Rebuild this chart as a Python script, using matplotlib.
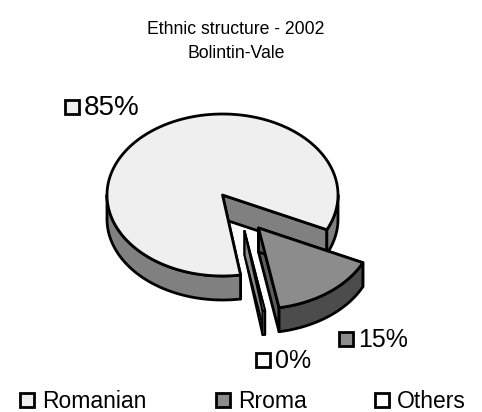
import numpy as np
import matplotlib
matplotlib.use("Agg")
import matplotlib.pyplot as plt
from matplotlib.patches import Polygon, Rectangle

plt.rcParams["font.family"] = ["Liberation Sans", "DejaVu Sans"]

title_lines = ["Ethnic structure - 2002", "Bolintin-Vale"]
categories = ["Romanian", "Rroma", "Others"]
values = [84.55, 15.1, 0.35]

START = -81
RX, RY, DEPTH = 115.5, 81, 24
CENTER = (222.5, 195)
offsets = [(0, 0), (36, 33), (22, 36)]
top_colors = ["#efefef", "#8c8c8c", "#ffffff"]
wall_colors = ["#808080", "#4c4c4c", "#8c8c8c"]
cut_colors = ["#808080", "#5e5e5e", "#8c8c8c"]
line_widths = [2, 2, 1.5]
swatch_colors = ["#efefef", "#8c8c8c", "#ffffff"]

fig = plt.figure(figsize=(4.82, 4.12), dpi=100)
ax = fig.add_axes([0, 0, 1, 1])
ax.set_xlim(0, 482)
ax.set_ylim(412, 0)
ax.axis("off")


def rim(cx, cy, a0, a1):
    t = np.radians(np.linspace(a0, a1, 200))
    return np.column_stack([cx + RX * np.cos(t), cy - RY * np.sin(t)])


def draw_slice(a_from, a_to, off, top, wall, cut, lw):
    # a_from > a_to, slices run clockwise like in the spreadsheet
    cx, cy = CENTER[0] + off[0], CENTER[1] + off[1]
    apex = np.array([cx, cy])
    down = np.array([0, DEPTH])
    style = dict(edgecolor="black", lw=lw, joinstyle="round")

    # the two flat cuts
    for a in (a_to, a_from):
        p = rim(cx, cy, a, a)[0]
        ax.add_patch(Polygon([apex, p, p + down, apex + down], facecolor=cut, **style))

    # outer wall, only the parts facing the viewer
    for lo, hi in ((0, -180), (-360, -540)):
        start, end = min(a_from, lo), max(a_to, hi)
        if start > end:
            pts = rim(cx, cy, start, end)
            ax.add_patch(Polygon(np.vstack([pts, (pts + down)[::-1]]), facecolor=wall, **style))

    ax.add_patch(Polygon(np.vstack([apex, rim(cx, cy, a_from, a_to)]), facecolor=top, **style))


def swatch(x, y, color):
    ax.add_patch(Rectangle((x, y), 14, 14, facecolor=color, edgecolor="black", lw=2))


# angles from the values
a = START
angles = []
for v in values:
    angles.append((a, a - v * 3.6))
    a -= v * 3.6

# romanian, then the thin one, then rroma on top
for i in (0, 2, 1):
    draw_slice(*angles[i], offsets[i], top_colors[i], wall_colors[i], cut_colors[i], line_widths[i])

# titles
ax.text(236, 29, title_lines[0], ha="center", va="center", fontsize=12.7)
ax.text(236, 53, title_lines[1], ha="center", va="center", fontsize=12.7)

# data labels
label_pos = [(65, 100), (339, 332), (256, 353)]
label_sizes = [20, 18, 18]
for (x, y), v, col, size in zip(label_pos, values, swatch_colors, label_sizes):
    swatch(x, y, col)
    ax.text(x + 19, y + 15, f"{v:.0f}%", ha="left", va="baseline", fontsize=size)

# legend
legend_x = [20, 216, 375]
for x, name, col in zip(legend_x, categories, swatch_colors):
    swatch(x, 393, col)
    ax.text(x + 22, 408, name, ha="left", va="baseline", fontsize=16.5)

fig.savefig("out.png", dpi=100)
